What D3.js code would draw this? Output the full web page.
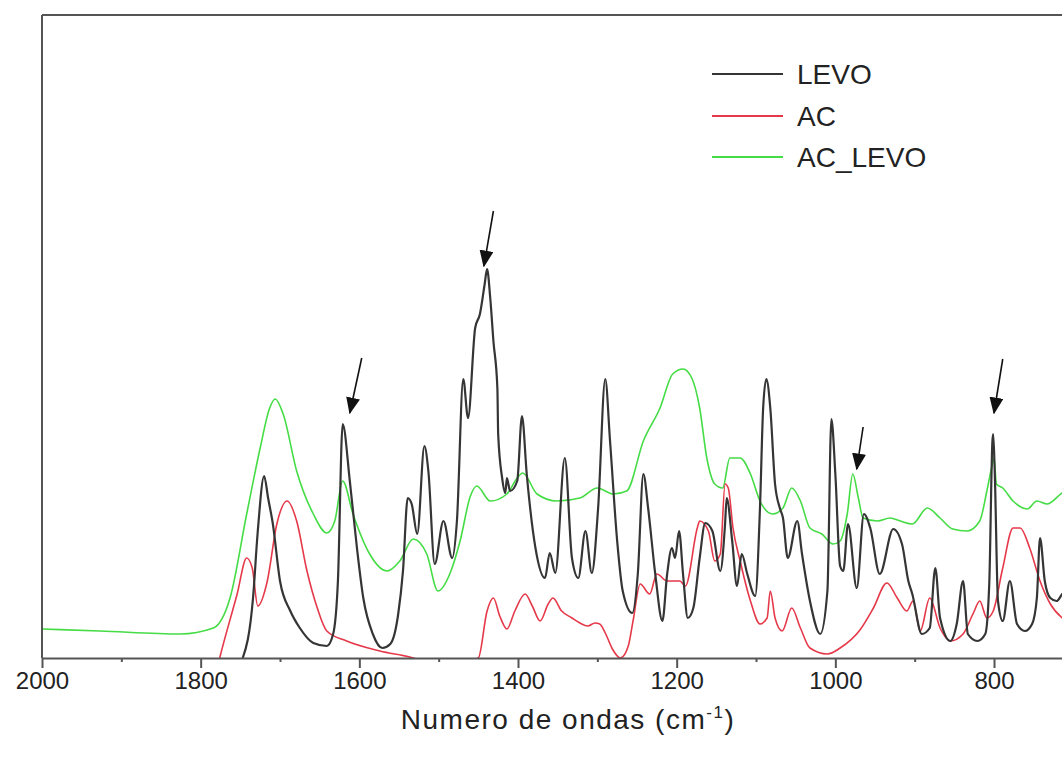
<!DOCTYPE html>
<html>
<head>
<meta charset="utf-8">
<script src="https://cdn.jsdelivr.net/npm/d3@7"></script>
<style>
  body { margin: 0; background: #fff; }
  svg { display: block; font-family: "Liberation Sans", Arial, sans-serif; }
  .tick-label { font-size: 24px; fill: #222; }
</style>
</head>
<body>
<div id="chart"></div>
<script>
// wavenumber (cm-1) and intensity (a.u.)
var levoWn = [1765, 1747, 1734, 1728, 1720, 1715, 1709, 1700, 1687, 1675,
    1658, 1641, 1633, 1627, 1621, 1612, 1603, 1595, 1583, 1571,
    1561, 1551, 1545, 1539, 1534, 1527, 1518, 1513, 1505, 1494,
    1483, 1477, 1469, 1463, 1454, 1448, 1442, 1439, 1435, 1431,
    1426, 1425, 1420, 1416, 1414, 1410, 1401, 1395, 1389, 1378,
    1366, 1360, 1353, 1341, 1332, 1324, 1315, 1307, 1299, 1290,
    1284, 1275, 1268, 1256, 1249, 1242, 1236, 1227, 1218, 1212,
    1206, 1202, 1197, 1192, 1186, 1179, 1171, 1164, 1155, 1145,
    1139, 1137, 1130, 1124, 1118, 1111, 1101, 1095, 1091, 1087,
    1082, 1076, 1070, 1066, 1060, 1048, 1042, 1032, 1019, 1010,
    1005, 1000, 994, 990, 984, 973, 964, 956, 944, 927,
    916, 908, 903, 891, 881, 874, 868, 855, 847, 839,
    833, 821, 811, 806, 802, 801, 799, 795, 789, 780,
    771, 761, 752, 746, 742, 736, 729, 721, 714, 705];
var levoVal = [-20, 0, 60, 127, 182, 160, 134, 77, 47, 30,
    15, 12, 24, 77, 234, 177, 110, 60, 24, 10,
    14, 44, 87, 160, 154, 124, 212, 187, 94, 137,
    100, 137, 279, 240, 330, 344, 374, 389, 360, 317,
    270, 224, 180, 165, 180, 167, 177, 242, 184, 110,
    80, 105, 85, 200, 100, 80, 127, 85, 150, 279,
    217, 117, 67, 45, 84, 184, 150, 84, 37, 84,
    110, 100, 127, 84, 40, 50, 100, 135, 127, 87,
    134, 160, 117, 72, 104, 84, 62, 150, 250, 279,
    250, 174, 150, 140, 100, 137, 104, 57, 24, 67,
    239, 184, 92, 87, 134, 70, 144, 130, 84, 129,
    114, 77, 64, 24, 30, 90, 40, 17, 34, 77,
    24, 17, 24, 74, 217, 224, 184, 57, 37, 77,
    34, 27, 34, 60, 120, 77, 60, 57, 64, 70];

var acWn = [1785, 1776, 1754, 1742, 1735, 1728, 1716, 1704, 1691, 1679, 1666,
    1653, 1641, 1616, 1574, 1532, 1498, 1450, 1439, 1431, 1423,
    1414, 1404, 1391, 1382, 1372, 1362, 1356, 1345, 1332, 1322,
    1312, 1303, 1297, 1290, 1281, 1271, 1261, 1255, 1246, 1234,
    1225, 1212, 1196, 1189, 1174, 1171, 1160, 1152, 1145, 1139,
    1135, 1129, 1120, 1107, 1095, 1086, 1082, 1076, 1067, 1055,
    1044, 1032, 1010, 994, 969, 952, 935, 922, 910, 902,
    893, 881, 868, 855, 839, 826, 818, 809, 801, 789,
    776, 767, 755, 742, 729, 714, 705];
var acVal = [-30, 0, 64, 100, 90, 52, 77, 134, 157, 137, 87,
    50, 27, 17, 7, 0, -10, 0, 47, 60, 42,
    29, 47, 64, 52, 37, 54, 60, 47, 40, 35,
    32, 35, 34, 25, 9, 0, 12, 37, 74, 64,
    84, 77, 77, 72, 130, 137, 127, 97, 104, 174,
    170, 130, 97, 57, 34, 40, 67, 40, 27, 50,
    30, 10, 4, 10, 28, 50, 75, 60, 47, 57,
    27, 60, 30, 17, 24, 45, 57, 40, 47, 90,
    130, 130, 110, 77, 54, 40, 35];

var acLevoWn = [2000, 1927, 1826, 1784, 1763, 1742, 1725, 1713, 1706, 1696,
    1679, 1658, 1641, 1631, 1621, 1608, 1587, 1565, 1549, 1532,
    1515, 1501, 1486, 1473, 1460, 1452, 1435, 1414, 1401, 1394,
    1376, 1351, 1322, 1300, 1280, 1263, 1242, 1221, 1205, 1192,
    1181, 1171, 1162, 1152, 1142, 1133, 1120, 1107, 1095, 1079,
    1066, 1055, 1044, 1032, 1017, 1003, 994, 985, 978, 971,
    965, 947, 931, 918, 903, 884, 868, 852, 834, 818,
    809, 802, 800, 797, 789, 776, 758, 746, 733, 714, 705];
var acLevoVal = [29, 27, 24, 30, 60, 144, 210, 250, 259, 244,
    187, 144, 125, 137, 177, 144, 104, 87, 97, 119,
    104, 67, 84, 117, 162, 172, 157, 164, 180, 185,
    164, 157, 160, 170, 164, 167, 217, 250, 284, 289,
    280, 250, 200, 174, 170, 200, 200, 184, 157, 144,
    150, 170, 157, 130, 124, 114, 117, 144, 184, 160,
    140, 137, 140, 137, 134, 150, 140, 129, 127, 137,
    167, 194, 200, 174, 170, 157, 149, 157, 154, 165, 168];

// arrows: tip and tail in data units
var arrowTipWn = [1612, 1443, 973, 800];
var arrowTipVal = [245, 392, 189, 245];
var arrowTailWn = [1597, 1431, 965, 789];
var arrowTailVal = [300, 447, 231, 299];

var majorTicks = [2000, 1800, 1600, 1400, 1200, 1000, 800];
var minorTicks = [1900, 1700, 1500, 1300, 1100, 900];
var seriesNames = ["LEVO", "AC", "AC_LEVO"];
var seriesColors = ["#353535", "#e5394a", "#45dc45"];

var width = 1062, height = 760;
var plotLeft = 42, plotTop = 15, plotBottom = 658;

var svg = d3.select("#chart").append("svg")
    .attr("width", width)
    .attr("height", height);

var x = d3.scaleLinear().domain([2000, 714.3]).range([plotLeft, width]);
var y = d3.scaleLinear().domain([0, 640]).range([plotBottom, plotBottom - 640]);

var defs = svg.append("defs");
defs.append("clipPath").attr("id", "plot-clip")
    .append("rect")
    .attr("x", plotLeft).attr("y", plotTop)
    .attr("width", width - plotLeft).attr("height", plotBottom - plotTop);

defs.append("marker")
    .attr("id", "head")
    .attr("viewBox", "0 0 12 10")
    .attr("refX", 11).attr("refY", 5)
    .attr("markerWidth", 17).attr("markerHeight", 14)
    .attr("markerUnits", "userSpaceOnUse")
    .attr("orient", "auto")
    .append("path")
    .attr("d", "M0,0L12,5L0,10Z")
    .attr("fill", "#111");

var line = d3.line()
    .x(function (d) { return x(d[0]); })
    .y(function (d) { return y(d[1]); })
    .curve(d3.curveMonotoneX);

function pairs(wn, val) {
    return wn.map(function (w, i) { return [w, val[i]]; });
}

var series = [pairs(levoWn, levoVal), pairs(acWn, acVal), pairs(acLevoWn, acLevoVal)];
var widths = [2.2, 1.6, 1.6];

var plot = svg.append("g").attr("clip-path", "url(#plot-clip)");
// draw green first, then red, black on top
[2, 1, 0].forEach(function (k) {
    plot.append("path")
        .attr("d", line(series[k]))
        .attr("fill", "none")
        .attr("stroke", seriesColors[k])
        .attr("stroke-width", widths[k])
        .attr("stroke-linejoin", "round");
});

// arrows
arrowTipWn.forEach(function (w, i) {
    svg.append("line")
        .attr("x1", x(arrowTailWn[i])).attr("y1", y(arrowTailVal[i]))
        .attr("x2", x(w)).attr("y2", y(arrowTipVal[i]))
        .attr("stroke", "#111")
        .attr("stroke-width", 1.6)
        .attr("marker-end", "url(#head)");
});

// frame: top and left
svg.append("line")
    .attr("x1", plotLeft).attr("y1", plotTop).attr("x2", width).attr("y2", plotTop)
    .attr("stroke", "#555").attr("stroke-width", 2);
svg.append("line")
    .attr("x1", plotLeft).attr("y1", plotTop).attr("x2", plotLeft).attr("y2", plotBottom)
    .attr("stroke", "#555").attr("stroke-width", 2);

// x axis
var xAxis = svg.append("g")
    .attr("transform", "translate(0," + plotBottom + ")")
    .call(d3.axisBottom(x).tickValues(majorTicks).tickSize(10).tickSizeOuter(0)
        .tickPadding(4).tickFormat(d3.format("d")));
xAxis.select(".domain").attr("stroke", "#555").attr("stroke-width", 2);
xAxis.selectAll(".tick line").attr("stroke", "#555").attr("stroke-width", 2);
xAxis.selectAll(".tick text")
    .attr("class", "tick-label")
    .attr("font-family", null).attr("font-size", null);
xAxis.attr("font-family", null).attr("font-size", null);

var xMinor = svg.append("g")
    .attr("transform", "translate(0," + plotBottom + ")")
    .call(d3.axisBottom(x).tickValues(minorTicks).tickSize(4).tickFormat(""));
xMinor.select(".domain").remove();
xMinor.selectAll(".tick line").attr("stroke", "#555").attr("stroke-width", 2);

// axis title
var title = svg.append("text")
    .attr("x", 568).attr("y", 729)
    .attr("text-anchor", "middle")
    .attr("font-size", 28)
    .attr("letter-spacing", 1.5)
    .attr("fill", "#222");
title.append("tspan").text("Numero de ondas (cm");
title.append("tspan").attr("font-size", 17).attr("dy", -11).text("-1");
title.append("tspan").attr("dy", 11).text(")");

// legend
var legendY = [74, 116, 157];
seriesNames.forEach(function (name, i) {
    svg.append("line")
        .attr("x1", 712).attr("x2", 783)
        .attr("y1", legendY[i]).attr("y2", legendY[i])
        .attr("stroke", seriesColors[i])
        .attr("stroke-width", 1.8);
    svg.append("text")
        .attr("x", 797).attr("y", legendY[i] + 10)
        .attr("font-size", 28)
        .attr("fill", "#222")
        .text(name);
});
</script>
</body>
</html>
